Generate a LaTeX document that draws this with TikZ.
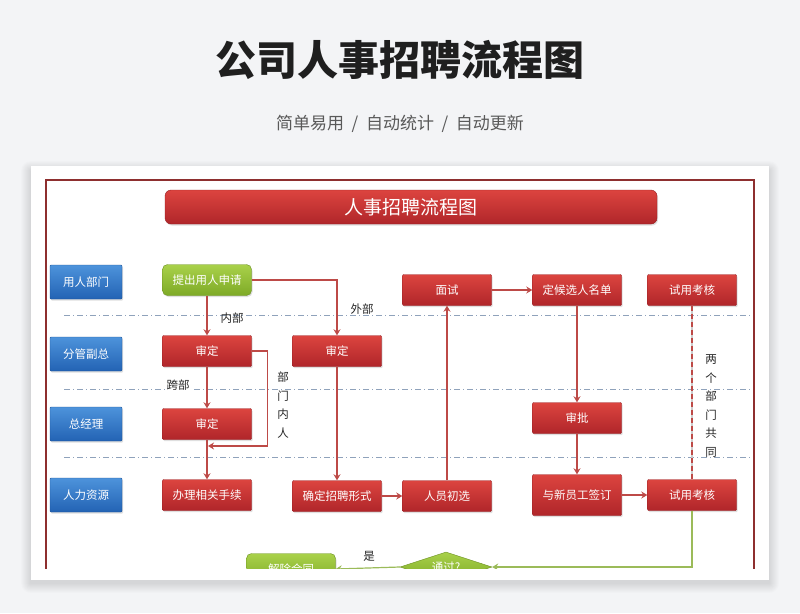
\documentclass[tikz,border=0pt]{standalone}
\usepackage{fontspec}
\setmainfont{Noto Sans CJK SC}
\newfontfamily\titlefont{Noto Sans CJK SC Black}
\usepackage{tikz}
\usetikzlibrary{arrows.meta,shapes.geometric,shadows}
\definecolor{pageBg}{HTML}{F3F4F6}
\definecolor{hrRed}{HTML}{DC443F}
\definecolor{hrRedD}{HTML}{B0262A}
\definecolor{hrBlue}{HTML}{4D93DB}
\definecolor{hrBlueD}{HTML}{2363B4}
\definecolor{hrGreen}{HTML}{A9D14A}
\definecolor{hrGreenD}{HTML}{7EAA27}
\definecolor{hrLine}{HTML}{BD4A47}
\definecolor{hrFrame}{HTML}{8E2F2F}
\definecolor{hrSep}{HTML}{8FA2BB}
\definecolor{hrTrial}{HTML}{9BBB59}

\begin{document}
\begin{tikzpicture}[x=1pt,y=-1pt,
    lane/.style={rectangle, rounded corners=1pt, top color=hrBlue, bottom color=hrBlueD,
                 draw=hrBlueD!85!black, thin, text=white, inner sep=0pt,
                 minimum width=72pt, minimum height=34pt, font=\fontsize{11.5}{12}\selectfont,
                 drop shadow={shadow xshift=1pt, shadow yshift=-1.5pt, opacity=0.25}},
    stepbox/.style={rectangle, rounded corners=1pt, top color=hrRed, bottom color=hrRedD,
                 draw=hrRedD!85!black, thin, text=white, inner sep=0pt,
                 minimum width=89pt, minimum height=31pt, font=\fontsize{11.5}{12}\selectfont,
                 drop shadow={shadow xshift=1pt, shadow yshift=-1.5pt, opacity=0.25}},
    gbox/.style={stepbox, rounded corners=5pt, top color=hrGreen, bottom color=hrGreenD,
                 draw=hrGreenD!85!black},
    conn/.style={draw=hrLine, line width=1.4pt, -{Stealth[length=6pt,width=7pt]}},
    sep/.style={hrSep, line width=0.9pt, dash pattern=on 6pt off 3pt on 1pt off 3pt},
    lbl/.style={text=black!85, font=\fontsize{11.5}{12}\selectfont, inner sep=1pt},
    vlbl/.style={lbl, align=center, font=\fontsize{11.5}{18.5}\selectfont}]
  \useasboundingbox (0,0) rectangle (800,613);
  \fill[pageBg] (0,0) rectangle (800,613);
  \node[font=\fontsize{41}{41}\selectfont\titlefont, text=black!88] (ttl) at (400,60) {公司人事招聘流程图};
  \node[font=\fontsize{17}{17}\selectfont, text=black!65] (sub) at (400,124) {简单易用\ \ /\ \ 自动统计\ \ /\ \ 自动更新};
  \foreach \i in {1,...,10}
    \fill[black, opacity=0.011, rounded corners=\i pt] (31-\i,166-\i+5) rectangle (769+\i,580+\i+3);
  \fill[white] (31,166) rectangle (769,580);
  \begin{scope}
    \clip (31,166) rectangle (769,568);
    \draw[hrFrame, line width=1.2pt] (46,600) -- (46,180) -- (754,180) -- (754,600);
    \node[stepbox, rounded corners=6pt, minimum width=492pt, minimum height=34pt,
          font=\fontsize{19}{19}\selectfont] (ban) at (411,207) {人事招聘流程图};
    \foreach \y in {315,389,457}
      \draw[sep] (64,\y) -- (752,\y);

    \node[lane] (l1) at (86,282) {用人部门};
    \node[lane] (l2) at (86,354) {分管副总};
    \node[lane] (l3) at (86,424) {总经理};
    \node[lane] (l4) at (86,495) {人力资源};

    \node[gbox] (ap) at (207,280) {提出用人申请};
    \node[stepbox] (sd1) at (207,351) {审定};
    \node[stepbox] (sd2) at (337,351) {审定};
    \node[stepbox] (sd3) at (207,424) {审定};
    \node[stepbox] (bl) at (207,495) {办理相关手续};
    \node[stepbox] (qd) at (337,496) {确定招聘形式};
    \node[stepbox] (cx) at (447,496) {人员初选};
    \node[stepbox] (ms) at (447,290) {面试};
    \node[stepbox] (hx) at (577,290) {定候选人名单};
    \node[stepbox] (sp) at (577,418) {审批};
    \node[stepbox, minimum height=41pt] (qy) at (577,495) {与新员工签订};
    \node[stepbox] (k1) at (692,290) {试用考核};
    \node[stepbox] (k2) at (692,495) {试用考核};
    \node[diamond, aspect=3.1, inner sep=0pt, minimum width=92pt, minimum height=30pt,
          top color=hrGreen, bottom color=hrGreenD, draw=hrGreenD!85!black, thin, text=white,
          font=\fontsize{11.5}{12}\selectfont] (pass) at (446,567) {通过?};
    \node[gbox] (jc) at (291,569) {解除合同};
    \coordinate (mj) at (208,446);

    \draw[conn] (ap.south) -- (sd1.north);
    \draw[conn] (ap.east) -| (sd2.north);
    \draw[conn] (sd1.south) -- (sd3.north);
    \draw[conn] (sd1.east) -- ++(16,0) |- (mj);
    \draw[conn] (sd3.south) -- (bl.north);
    \draw[conn] (sd2.south) -- (qd.north);
    \draw[conn] (qd.east) -- (cx.west);
    \draw[conn] (cx.north) -- (ms.south);
    \draw[conn] (ms.east) -- (hx.west);
    \draw[conn] (hx.south) -- (sp.north);
    \draw[conn] (sp.south) -- (qy.north);
    \draw[conn] (qy.east) -- (k2.west);
    \draw[black!20, line width=2.4pt] (k1.south) -- (k2.north);
    \draw[hrLine, line width=1.4pt, dash pattern=on 5pt off 3pt] (k1.south) -- (k2.north);
    \draw[hrTrial, line width=1.2pt, -{Stealth[length=6pt,width=7pt]}] (k2.south) |- (pass.east);
    \draw[hrTrial, line width=1.2pt, -{Stealth[length=6pt,width=7pt]}] (pass.west) -- (jc.east);

    \node[lbl] (t1) at (232,318) {内部};
    \node[lbl] (t2) at (362,309) {外部};
    \node[lbl, fill=white] (t3) at (178,385) {跨部};
    \node[vlbl] (t4) at (283,405) {部\\门\\内\\人};
    \node[vlbl] (t5) at (711,406) {两\\个\\部\\门\\共\\同};
    \node[lbl] (t6) at (369,556) {是};
  \end{scope}
\end{tikzpicture}
\end{document}
